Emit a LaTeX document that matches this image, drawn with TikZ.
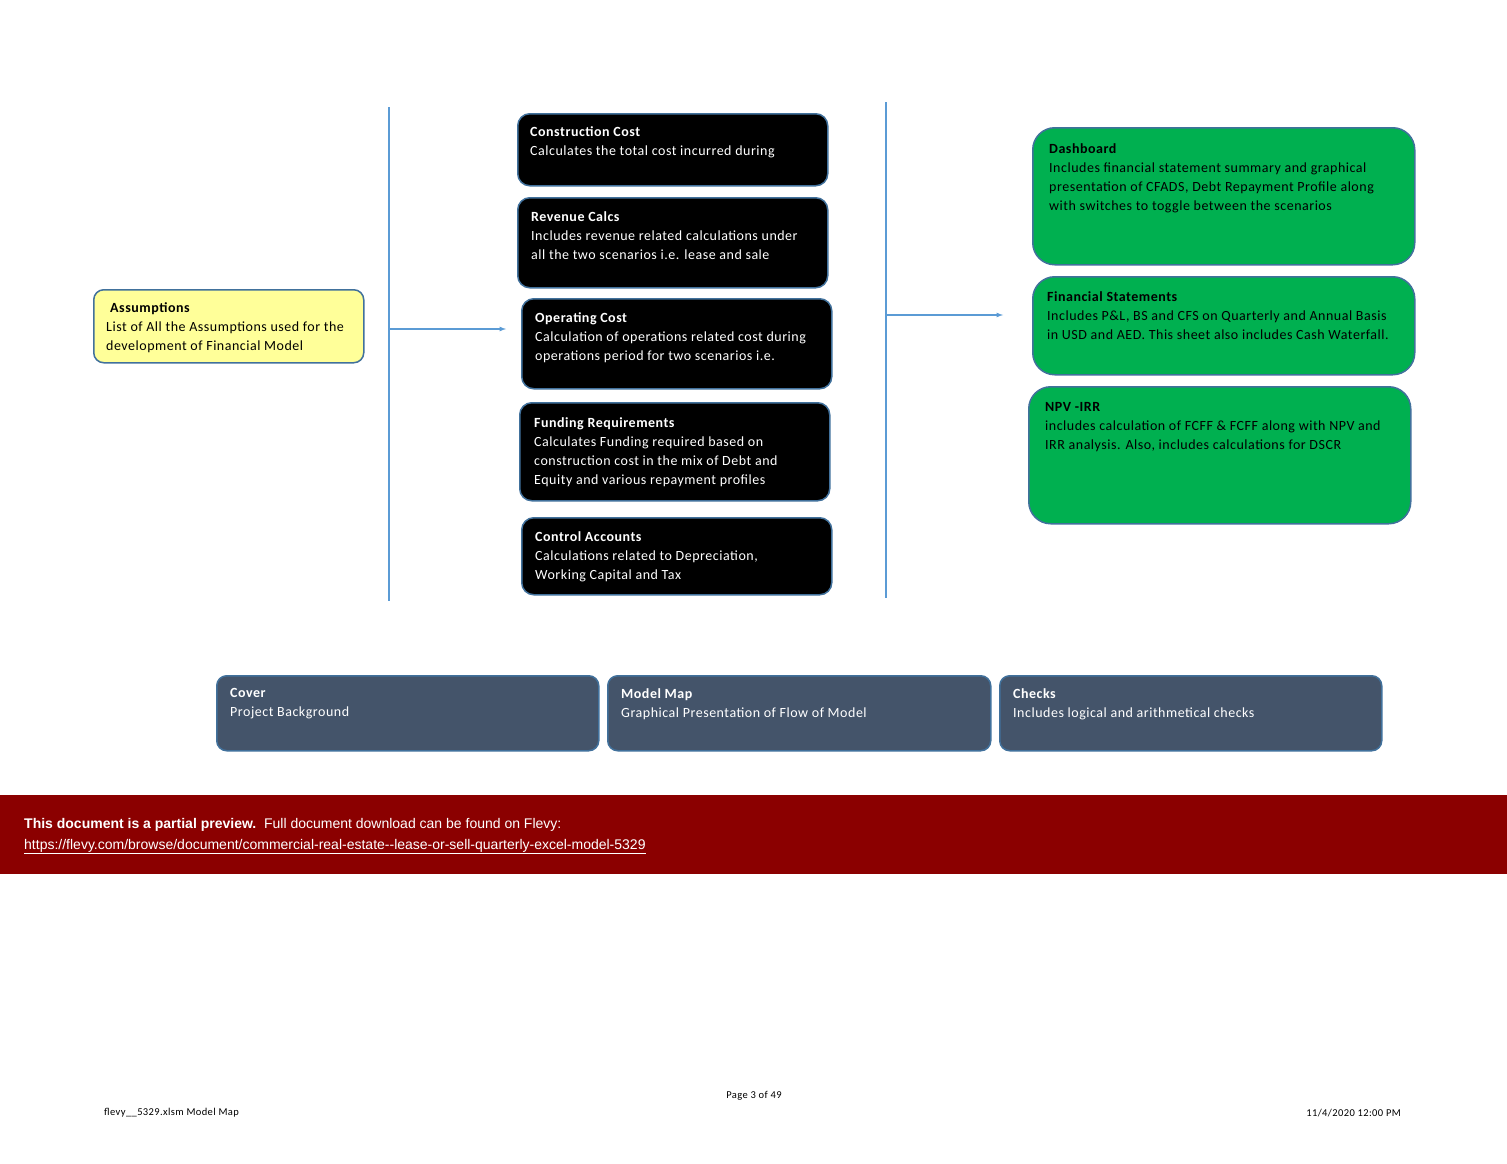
\documentclass[tikz,border=0pt]{standalone}
\usepackage{fontspec}
\setmainfont{Carlito}[LetterSpace=3.7]
\newfontfamily\arialfont{Liberation Sans}
\usepackage{xcolor}
\usepackage{tikz}
\usetikzlibrary{positioning}
\definecolor{boxline}{HTML}{41719C}
\definecolor{flowline}{HTML}{5B9BD5}
\definecolor{sheetgreen}{HTML}{00B050}
\definecolor{sheetyellow}{HTML}{FFFF99}
\definecolor{sheetslate}{HTML}{44546A}
\definecolor{bannerred}{HTML}{8B0000}

\begin{document}
\begin{tikzpicture}[x=1pt,y=-1pt,
				sheet/.style={draw=boxline,line width=1.5pt,anchor=north west,inner sep=0pt},
				calcbox/.style={sheet,fill=black,rounded corners=12pt,minimum width=310pt},
				outbox/.style={sheet,fill=sheetgreen,rounded corners=22pt,minimum width=382pt},
				navbox/.style={sheet,fill=sheetslate,rounded corners=10pt,minimum width=382pt,minimum height=75pt},
				inbox/.style={sheet,fill=sheetyellow,rounded corners=10pt},
				sheettext/.style={anchor=north west,inner sep=0pt,align=left,font=\fontsize{14}{19}\selectfont},
				flow/.style={draw=flowline,line width=1.2pt},
				foot/.style={inner sep=0pt,font=\fontsize{10.5}{12}\selectfont}]
				\path[fill=white,use as bounding box] (0,0) rectangle (1507,1164);
				% input sheet
				\node[inbox,minimum width=270pt,minimum height=73pt] (assump) at (93,289) {};
				\node[sheettext] (assumptxt) at (106,302) {\hspace*{4pt}\textbf{Assumptions}\\List of All the Assumptions used for the\\development of Financial Model};
				% calculation sheets
				\node[calcbox,minimum height=72pt] (ccost) at (517,113) {};
				\node[calcbox,minimum height=90pt] (revcalc) at (517,197) {};
				\node[calcbox,minimum height=90pt] (opcost) at (521,298) {};
				\node[calcbox,minimum height=98pt] (funding) at (519,402) {};
				\node[calcbox,minimum height=77pt] (control) at (521,517) {};
				\node[sheettext,text=white] (ccosttxt) at (530,126) {\textbf{Construction Cost}\\Calculates the total cost incurred during};
				\node[sheettext,text=white] (revcalctxt) at (531,211) {\textbf{Revenue Calcs}\\Includes revenue related calculations under\\all the two scenarios i.e. lease and sale};
				\node[sheettext,text=white] (opcosttxt) at (535,312) {\textbf{Operating Cost}\\Calculation of operations related cost during\\operations period for two scenarios i.e.};
				\node[sheettext,text=white] (fundingtxt) at (534,417) {\textbf{Funding Requirements}\\Calculates Funding required based on\\construction cost in the mix of Debt and\\Equity and various repayment profiles};
				\node[sheettext,text=white] (controltxt) at (535,531) {\textbf{Control Accounts}\\Calculations related to Depreciation,\\Working Capital and Tax};
				% output sheets
				\node[outbox,minimum height=137pt] (dash) at (1032,127) {};
				\node[outbox,minimum height=98pt] (finstat) at (1032,276) {};
				\node[outbox,minimum height=137pt] (npvirr) at (1028,386) {};
				\node[sheettext] (dashtxt) at (1049,143) {\textbf{Dashboard}\\Includes financial statement summary and graphical\\presentation of CFADS, Debt Repayment Profile along\\with switches to toggle between the scenarios};
				\node[sheettext] (finstattxt) at (1047,291) {\textbf{Financial Statements}\\Includes P\&L, BS and CFS on Quarterly and Annual Basis\\in USD and AED. This sheet also includes Cash Waterfall.};
				\node[sheettext] (npvirrtxt) at (1045,402) {\textbf{NPV -IRR}\\includes calculation of FCFF \& FCFF along with NPV and\\IRR analysis. Also, includes calculations for DSCR};
				% flow
				\coordinate (inbustop) at (389,107);
				\coordinate (inbusbot) at (389,601);
				\coordinate (infeed) at (389,329);
				\coordinate (inhead) at (506,329);
				\coordinate (outbustop) at (886,102);
				\coordinate (outbusbot) at (886,598);
				\coordinate (outfeed) at (886,315);
				\coordinate (outhead) at (1003,315);
				\draw[flow] (inbustop) -- (inbusbot);
				\draw[flow] (outbustop) -- (outbusbot);
				\draw[flow,-latex] (infeed) -- (inhead);
				\draw[flow,-latex] (outfeed) -- (outhead);
				% navigation sheets
				\node[navbox] (cover) at (216,675) {};
				\node[navbox,minimum width=383pt] (modelmap) at (607,675) {};
				\node[navbox] (checks) at (999,675) {};
				\node[sheettext,text=white] (covertxt) at (230,688) {\textbf{Cover}\\Project Background};
				\node[sheettext,text=white] (modelmaptxt) at (621,688) {\textbf{Model Map}\\Graphical Presentation of Flow of Model};
				\node[sheettext,text=white] (checkstxt) at (1013,688) {\textbf{Checks}\\Includes logical and arithmetical checks};
				% preview banner
				\fill[bannerred] (0,795) rectangle (1507,874);
				\node[anchor=north west,inner sep=0pt,text=white,font=\arialfont\fontsize{14}{21}\selectfont,align=left] (banner) at (24,818)
				{\textbf{This document is a partial preview.}\ \ Full document download can be found on Flevy:\\\underline{https://flevy.com/browse/document/commercial-real-estate--lease-or-sell-quarterly-excel-model-5329}};
				% page footer
				\node[foot] (pagenum) at (754,1096) {Page 3 of 49};
				\node[foot,anchor=west] (filename) at (104,1113) {flevy\_\_5329.xlsm Model Map};
				\node[foot,anchor=east] (stamp) at (1401,1113) {11/4/2020 12:00 PM};
\end{tikzpicture}
\end{document}
